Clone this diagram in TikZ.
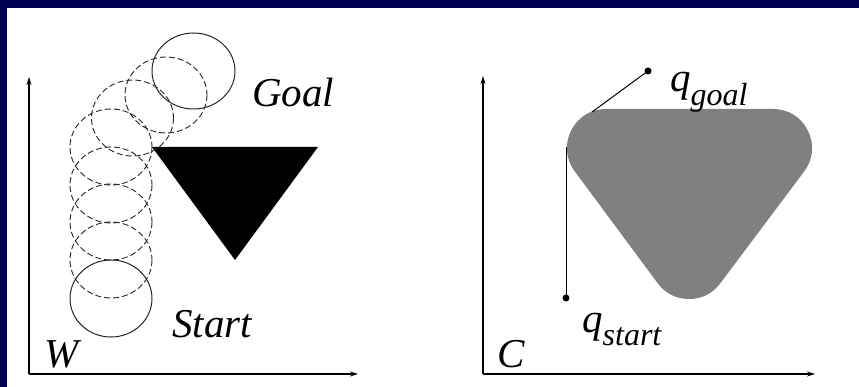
\documentclass[tikz,border=0pt]{standalone}
\usepackage{fontspec}
\setmainfont{Liberation Serif}
\usetikzlibrary{arrows.meta}
\definecolor{navy}{HTML}{000052}
\definecolor{obst}{HTML}{808080}
\tikzset{
  axis/.style={line width=1.2pt, -{Stealth[length=8pt,width=5pt]}},
  solidc/.style={line width=1pt, draw=black!85},
  dashc/.style={line width=0.9pt, draw=black!85, dash pattern=on 6pt off 3pt},
  lbl/.style={anchor=base west, inner sep=0pt, font=\fontsize{41}{48}\selectfont\itshape},
  dotn/.style={circle, fill=black, inner sep=0pt, minimum size=7pt},
  pathl/.style={line width=1pt, draw=black}
}
\begin{document}
\begin{tikzpicture}[x=1pt,y=-1pt]
\useasboundingbox (0,0) rectangle (859,387);
\fill[navy] (0,0) rectangle (859,387);
\fill[white] (7,8) rectangle (859,387);

% ---------- W panel ----------
\coordinate (wo) at (29,374);
\coordinate (wy) at (29,77);
\coordinate (wx) at (358,374);
\draw[axis] (wo) -- (wy);
\draw[axis] (wo) -- (wx);

\fill[black] (152,147) -- (318,147) -- (235,260) -- cycle;

\foreach \cx/\cy in {111/260, 111/222, 111/185, 111/147, 132.5/118, 166/95}
  \draw[dashc] (\cx,\cy) ellipse [x radius=41, y radius=38];
\draw[solidc] (111,298.5) ellipse [x radius=41, y radius=38.5];
\draw[solidc] (193.5,71) ellipse [x radius=41.5, y radius=38];

\node[lbl] (goal) at (252,107) {Goal};
\node[lbl] (start) at (172,337) {Start};
\node[lbl] (W) at (44,367) {W};

% ---------- C panel ----------
\coordinate (co) at (483,374);
\coordinate (cy) at (483,76);
\coordinate (cx) at (815,374);
\draw[axis] (co) -- (cy);
\draw[axis] (co) -- (cx);

\filldraw[obst, line width=78pt, line join=round]
  (606,148) -- (773,148) -- (689,260) -- cycle;

\node[dotn] (qg) at (648,71) {};
\node[dotn] (qs) at (566,298) {};
\coordinate (corner) at (566,147);
\coordinate (tang) at (592,112);
\draw[pathl] (qs.center) -- (corner);
\draw[pathl] (tang) -- (qg.center);

\node[lbl] (qgoal) at (670,92) {q\raisebox{-14pt}{\fontsize{32}{38}\selectfont goal}};
\node[lbl] (qstart) at (582,332) {q\raisebox{-13pt}{\fontsize{32}{38}\selectfont start}};
\node[lbl] (C) at (497,367) {C};
\end{tikzpicture}
\end{document}
